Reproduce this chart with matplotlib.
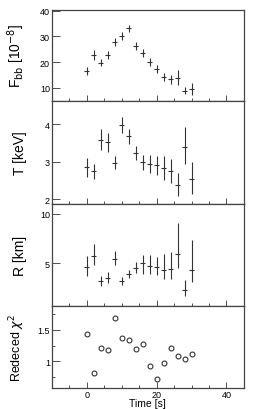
import matplotlib
matplotlib.use("Agg")
from matplotlib import pyplot as plt
from matplotlib.ticker import MultipleLocator, FormatStrFormatter

plt.rcParams['font.family'] = ['Liberation Sans', 'DejaVu Sans']

time = [0, 2, 4, 6, 8, 10, 12, 14, 16, 18, 20, 22, 24, 26, 28, 30]
time_err = 0.7

fbb = [16.5, 22.7, 19.8, 22.7, 27.9, 30.2, 33.1, 26.3, 23.5, 20.0, 17.4, 14.3, 13.3, 13.9, 8.9, 9.6]
fbb_err = [1.6, 2.0, 1.5, 1.5, 1.5, 1.5, 1.5, 1.5, 1.7, 1.5, 1.5, 1.5, 1.7, 3.0, 1.3, 2.3]

temp = [2.85, 2.75, 3.58, 3.52, 2.97, 3.98, 3.68, 3.23, 3.0, 2.95, 2.9, 2.83, 2.74, 2.38, 3.4, 2.55]
temp_lo = [0.25, 0.2, 0.28, 0.25, 0.17, 0.2, 0.2, 0.18, 0.22, 0.25, 0.26, 0.33, 0.31, 0.29, 0.47, 0.4]
temp_hi = [0.26, 0.2, 0.3, 0.26, 0.18, 0.22, 0.19, 0.18, 0.18, 0.23, 0.24, 0.33, 0.33, 0.33, 0.54, 0.44]

radius = [4.6, 5.77, 3.19, 3.52, 5.5, 3.25, 3.93, 4.5, 5.0, 4.77, 4.6, 4.36, 4.43, 6.0, 2.35, 4.33]
radius_lo = [0.84, 0.9, 0.51, 0.53, 0.63, 0.43, 0.44, 0.5, 1.07, 0.84, 0.77, 0.94, 1.01, 1.5, 0.61, 1.24]
radius_hi = [1.17, 1.23, 0.57, 0.58, 0.78, 0.34, 0.4, 0.6, 0.84, 1.07, 1.1, 1.64, 1.74, 3.13, 1.01, 3.02]

chi2 = [1.43, 0.82, 1.22, 1.18, 1.69, 1.38, 1.34, 1.2, 1.28, 0.92, 0.72, 0.98, 1.21, 1.085, 1.03, 1.11]

fig = plt.figure(figsize=(2.57, 4.1), dpi=100)
tops = [0.974, 0.751, 0.5, 0.251]
bots = [0.751, 0.5, 0.251, 0.051]
axes = []
for t, b in zip(tops, bots):
    ax = fig.add_axes([0.202, b, 0.747, t - b])
    axes.append(ax)

ebkw = dict(fmt='none', ecolor='#333333', elinewidth=0.8, capsize=0)

axes[0].errorbar(time, fbb, yerr=fbb_err, xerr=time_err, **ebkw)
axes[0].set_ylim(4.8, 40.4)
axes[0].yaxis.set_major_locator(MultipleLocator(10))
axes[0].set_ylabel(r'F$_{\rm bb}$ [10$^{-8}$]', fontsize=10)

axes[1].errorbar(time, temp, yerr=[temp_lo, temp_hi], xerr=time_err, **ebkw)
axes[1].set_ylim(1.87, 4.62)
axes[1].yaxis.set_major_locator(MultipleLocator(1))
axes[1].set_ylabel('T [keV]', fontsize=10)

axes[2].errorbar(time, radius, yerr=[radius_lo, radius_hi], xerr=time_err, **ebkw)
axes[2].set_ylim(0.7, 11)
axes[2].yaxis.set_major_locator(MultipleLocator(5))
axes[2].set_ylabel('R [km]', fontsize=10)

axes[3].plot(time, chi2, 'o', mfc='none', mec='#333333', ms=3.5, mew=0.8)
axes[3].set_ylim(0.575, 1.88)
axes[3].yaxis.set_major_locator(MultipleLocator(0.5))
axes[3].yaxis.set_minor_locator(MultipleLocator(0.25))
axes[3].yaxis.set_major_formatter(FormatStrFormatter('%g'))
axes[3].set_ylabel(r'Redeced $\chi^2$', fontsize=9)
axes[3].set_xlabel('Time [s]', fontsize=7.5, labelpad=-1)

for i, ax in enumerate(axes):
    ax.set_xlim(-10, 45)
    ax.xaxis.set_major_locator(MultipleLocator(20))
    ax.xaxis.set_minor_locator(MultipleLocator(5))
    ax.tick_params(which='both', direction='in', labelsize=6.5, pad=1.5, width=0.6, color='#333333')
    ax.tick_params(which='major', length=4)
    ax.tick_params(which='minor', length=2)
    ax.tick_params(axis='y', which='major', length=6)
    for s in ax.spines.values():
        s.set_linewidth(0.9)
        s.set_color('#444444')
    ax.yaxis.set_label_coords(-0.13, 0.5)
    if i < 3:
        ax.tick_params(labelbottom=False)

fig.savefig('out.png', dpi=100)
